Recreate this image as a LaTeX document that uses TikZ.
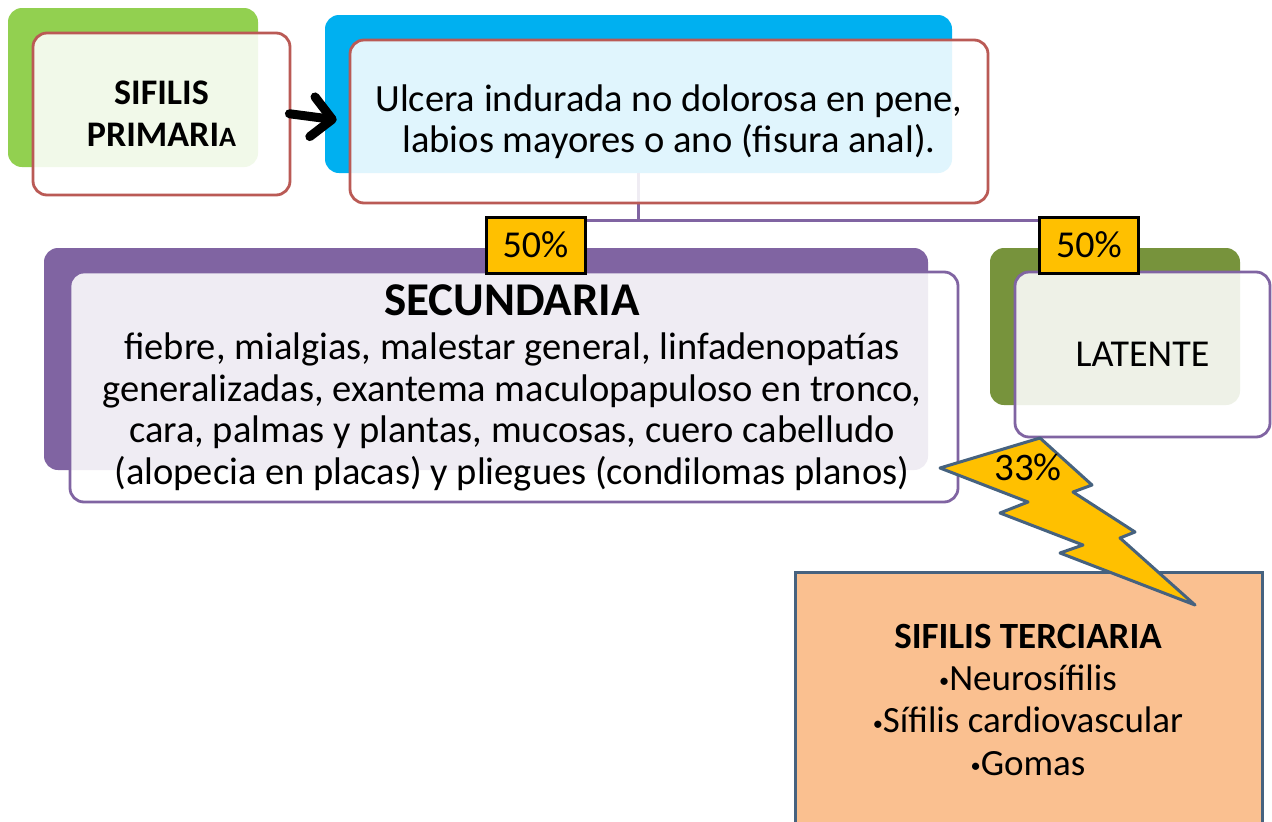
\documentclass[tikz,border=0pt]{standalone}
\usepackage{fontspec}
\setmainfont{Carlito}
\usetikzlibrary{arrows.meta}
\definecolor{pgreen}{HTML}{92D050}
\definecolor{pblue}{HTML}{00B0F0}
\definecolor{ppurple}{HTML}{8064A2}
\definecolor{polive}{HTML}{77933C}
\definecolor{pred}{HTML}{BA5A55}
\definecolor{pgold}{HTML}{FFC000}
\definecolor{ppeach}{HTML}{FAC090}
\definecolor{psteel}{HTML}{46627F}
\newcommand{\smbul}{\raisebox{0.07em}{\scalebox{0.55}{•}}}
\tikzset{
  backbox/.style={rounded corners=14pt, fill=#1, draw=none, inner sep=0pt},
  frontbox/.style={rounded corners=14pt, draw=#1, line width=2.8pt, fill=white, fill opacity=0.88, text opacity=1, inner sep=0pt, align=center},
  pctbox/.style={draw=black, line width=3pt, fill=pgold, inner sep=0pt, minimum width=99pt, minimum height=56pt, font=\fontsize{38}{40}\selectfont},
  conn/.style={draw=ppurple, line width=3pt},
  txt/.style={align=center, inner sep=0pt},
  bigtext/.style={font=\fontsize{38.5}{41}\selectfont}
}
\begin{document}
\begin{tikzpicture}[x=1pt,y=-1pt]
\useasboundingbox (0,0) rectangle (1272,822);
\clip (0,0) rectangle (1272,822);
\fill[white] (0,0) rectangle (1272,822);
% primary
\node[backbox=pgreen, minimum width=250pt, minimum height=159pt] (pback) at (133,87.5) {};
\node[frontbox=pred, minimum width=257pt, minimum height=162pt, font=\bfseries\fontsize{36}{42}\selectfont] (prim) at (161.5,114) {SIFILIS\\PRIMARI{\fontsize{28}{30}\selectfont A}};
% ulcera
\node[backbox=pblue, minimum width=627pt, minimum height=158pt] (uback) at (638.5,94) {};
\coordinate (junc) at (638.5,220);
\draw[conn] (uback.south) -- (junc);
\node[frontbox=pred, minimum width=638pt, minimum height=163pt, bigtext] (ulc) at (669,121.5) {Ulcera indurada no dolorosa en pene,\\labios mayores o ano (fisura anal).};
\draw[-{Straight Barb[length=20pt,width=40pt,line cap=round,line join=round]}, line width=9pt, line cap=round, shorten <=-2pt, shorten >=12pt] (prim.east) -- (ulc.west);
% secundaria
\node[backbox=ppurple, minimum width=884pt, minimum height=222pt] (sback) at (486,359) {};
\node[frontbox=ppurple, minimum width=888pt, minimum height=230pt] (sec) at (514,387) {};
\node[txt, font=\bfseries\fontsize{47}{47}\selectfont] (sectitle) at (512,300) {SECUNDARIA};
\node[txt, font=\fontsize{38.5}{41.5}\selectfont] (secbody) at (512,412) {fiebre, mialgias, malestar general, linfadenopatías\\generalizadas, exantema maculopapuloso en tronco,\\cara, palmas y plantas, mucosas, cuero cabelludo\\(alopecia en placas) y pliegues (condilomas planos)};
% latente
\node[backbox=polive, minimum width=250pt, minimum height=157pt] (lback) at (1115,326.5) {};
\node[frontbox=ppurple, minimum width=255pt, minimum height=165pt, font=\fontsize{38}{41}\selectfont] (lat) at (1142.5,354.5) {LATENTE};
% percentages
\draw[conn] (junc) -- (535.5,220) (junc) -- (1089,220);
\node[pctbox] (p1) at (535.5,245) {50\%};
\node[pctbox] (p2) at (1089,245) {50\%};
% terciaria
\node[draw=psteel, line width=3pt, fill=ppeach, minimum width=467pt, minimum height=290pt, inner sep=0pt] (ter) at (1028.5,717) {};
\node[txt, font=\bfseries\fontsize{37}{42}\selectfont] (tertitle) at (1028,636) {SIFILIS TERCIARIA};
\node[txt, font=\fontsize{37}{42.5}\selectfont] (terbody) at (1028,720) {\smbul Neurosífilis\\\smbul Sífilis cardiovascular\\\smbul Gomas};
% bolt
\draw[draw=psteel, line width=3pt, fill=pgold, line join=round] (940,468) -- (1040,438) -- (1092,485) -- (1073,492) -- (1135,532) -- (1120,538) -- (1195,605) -- (1060,553) -- (1083,545) -- (1000,513) -- (1028,502) -- cycle;
\node[inner sep=0pt, font=\fontsize{39}{40}\selectfont] (bolt) at (1028,467) {33\%};
\end{tikzpicture}
\end{document}
